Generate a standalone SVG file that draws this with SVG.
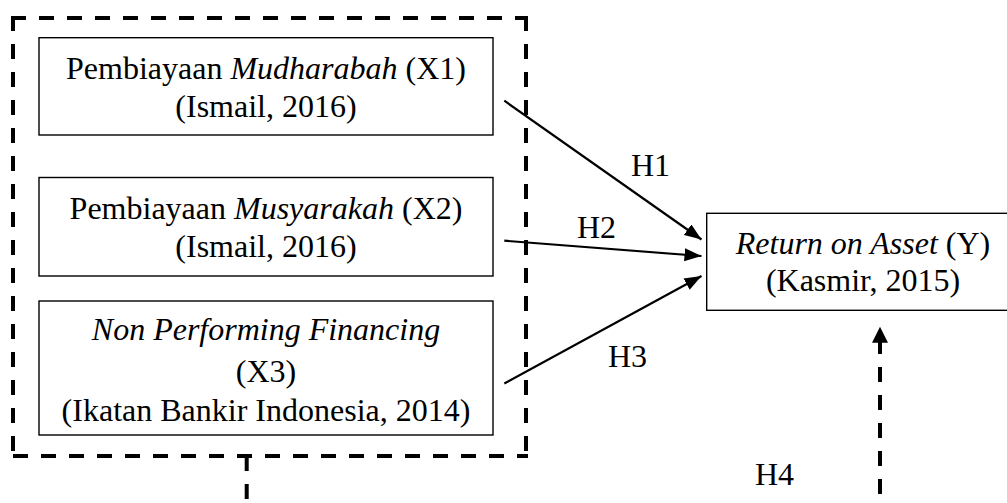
<svg xmlns="http://www.w3.org/2000/svg" width="1007" height="503" viewBox="0 0 1007 503">
<style>
  text { font-family: "Liberation Serif", "Times New Roman", serif; font-size: 32px; fill: #000; }
  .c { text-anchor: middle; }
  .i { font-style: italic; }
  .box { fill: #fff; stroke: #000; stroke-width: 1.4; }
  .dash { stroke: #000; stroke-width: 4; stroke-dasharray: 15 13; fill: none; }
  .arr { stroke: #000; stroke-width: 2.2; fill: none; marker-end: url(#head); }
</style>
<defs>
  <marker id="head" markerUnits="userSpaceOnUse" markerWidth="18" markerHeight="14" refX="17" refY="6.5" orient="auto">
    <path d="M0,0 L17,6.5 L0,13 z" fill="#000"/>
  </marker>
  <marker id="headBig" markerUnits="userSpaceOnUse" markerWidth="17" markerHeight="17" refX="16" refY="8" orient="auto">
    <path d="M0,0 L16,8 L0,16 z" fill="#000"/>
  </marker>
</defs>
<rect width="1007" height="503" fill="#fff"/>

<g id="group-x">
  <line class="dash" x1="11" y1="18" x2="528" y2="18"/>
  <line class="dash" x1="526" y1="16" x2="526" y2="458"/>
  <line class="dash" x1="13" y1="456" x2="528" y2="456"/>
  <line class="dash" x1="13" y1="16" x2="13" y2="458"/>
</g>

<g id="x1">
  <rect class="box" x="39" y="37.7" width="454" height="97.3"/>
  <text class="c" x="266" y="79">Pembiayaan <tspan class="i">Mudharabah</tspan> (X1)</text>
  <text class="c" x="266" y="117">(Ismail, 2016)</text>
</g>

<g id="x2">
  <rect class="box" x="39" y="177.5" width="454" height="98.5"/>
  <text class="c" x="266" y="219">Pembiayaan <tspan class="i">Musyarakah</tspan> (X2)</text>
  <text class="c" x="266" y="257">(Ismail, 2016)</text>
</g>

<g id="x3">
  <rect class="box" x="39" y="301" width="454" height="134"/>
  <text class="c i" x="266" y="340">Non Performing Financing</text>
  <text class="c" x="266" y="381.5">(X3)</text>
  <text class="c" x="266" y="420.5">(Ikatan Bankir Indonesia, 2014)</text>
</g>

<g id="y">
  <rect class="box" x="706.7" y="213.3" width="301" height="97"/>
  <text class="c" x="863" y="253.5"><tspan class="i">Return on Asset</tspan> (Y)</text>
  <text class="c" x="863" y="290.5">(Kasmir, 2015)</text>
</g>

<g id="connectors">
  <line class="arr" x1="504.3" y1="100.7" x2="701.5" y2="239.5"/>
  <line class="arr" x1="504.3" y1="240.7" x2="701.5" y2="256"/>
  <line class="arr" x1="504.3" y1="383.5" x2="701.5" y2="276"/>
  <line class="dash" x1="246.7" y1="456" x2="246.7" y2="510"/>
  <line class="dash" x1="880" y1="522" x2="880" y2="326.7" marker-end="url(#headBig)"/>
  <text x="631" y="176">H1</text>
  <text x="577" y="237.5">H2</text>
  <text x="608" y="367">H3</text>
  <text x="755" y="485">H4</text>
</g>
</svg>
